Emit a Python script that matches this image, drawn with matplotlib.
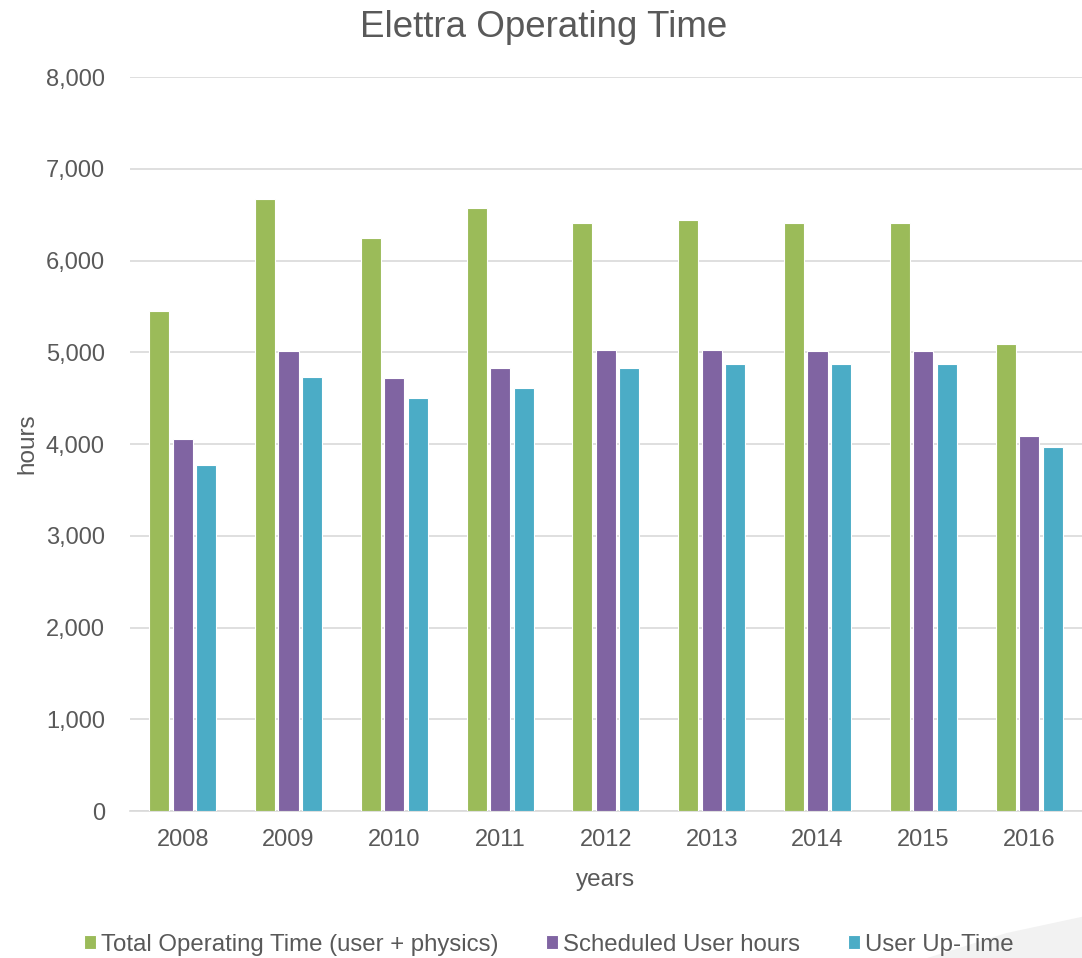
import matplotlib
matplotlib.use("Agg")
import matplotlib.pyplot as plt
import numpy as np
from matplotlib.patches import Polygon

years = ["2008", "2009", "2010", "2011", "2012", "2013", "2014", "2015", "2016"]
total_operating = [5445, 6670, 6250, 6570, 6405, 6445, 6405, 6405, 5085]
scheduled_user = [4057, 5016, 4720, 4830, 5025, 5027, 5016, 5016, 4093]
user_uptime = [3770, 4730, 4500, 4615, 4830, 4875, 4871, 4875, 3970]

series_names = ["Total Operating Time (user + physics)", "Scheduled User hours", "User Up-Time"]
colors = ["#9BBB59", "#8064A2", "#4BACC6"]
text_color = "#595959"

plt.rcParams['font.family'] = ['Liberation Sans', 'DejaVu Sans']

fig = plt.figure(figsize=(10.82, 9.58), dpi=100)
ax = fig.add_axes([0.120, 0.1534, 0.880, 0.7662])

# decorative light shape bottom-right (slide background)
fig.patches.append(Polygon([(0.857, 0.0), (0.93, 0.026), (1.0, 0.043), (1.0, 0.0)],
                           closed=True, transform=fig.transFigure,
                           facecolor="#F2F2F2", edgecolor="none", zorder=0))

x = np.arange(len(years))
offset = 0.222
width = 0.19
for i, (vals, c, name) in enumerate(zip([total_operating, scheduled_user, user_uptime], colors, series_names)):
    ax.bar(x + (i - 1) * offset, vals, width=width, color=c, edgecolor="white",
           linewidth=0.8, label=name, zorder=3)

ax.set_xlim(-0.5, len(years) - 0.5)
ax.set_ylim(0, 8000)
ax.set_yticks(np.arange(0, 8001, 1000))
ax.set_yticklabels([f"{v:,}" for v in range(0, 8001, 1000)])
ax.set_xticks(x)
ax.set_xticklabels(years)
ax.yaxis.grid(True, color="#D9D9D9", linewidth=1.2, zorder=0)
ax.set_axisbelow(True)
for s in ["top", "right", "left"]:
    ax.spines[s].set_visible(False)
ax.spines["bottom"].set_color("#D9D9D9")
ax.spines["bottom"].set_linewidth(1.2)
ax.tick_params(axis="both", length=0, labelsize=17, colors=text_color)
ax.tick_params(axis="y", pad=18)
ax.tick_params(axis="x", pad=13)
ax.patch.set_alpha(0)

ax.set_ylabel("hours", fontsize=17.5, color=text_color, labelpad=5)
ax.set_xlabel("years", fontsize=17.5, color=text_color, labelpad=13)
fig.text(0.502, 0.971, "Elettra Operating Time", ha="center", va="center",
         fontsize=26.5, color=text_color)

leg = fig.legend(loc="center", bbox_to_anchor=(0.507, 0.014), ncol=3, frameon=False,
                 fontsize=17.3, handlelength=0.5, handleheight=0.5, handletextpad=0.2,
                 columnspacing=2.0, labelcolor=text_color)

fig.savefig("out.png", dpi=100)
